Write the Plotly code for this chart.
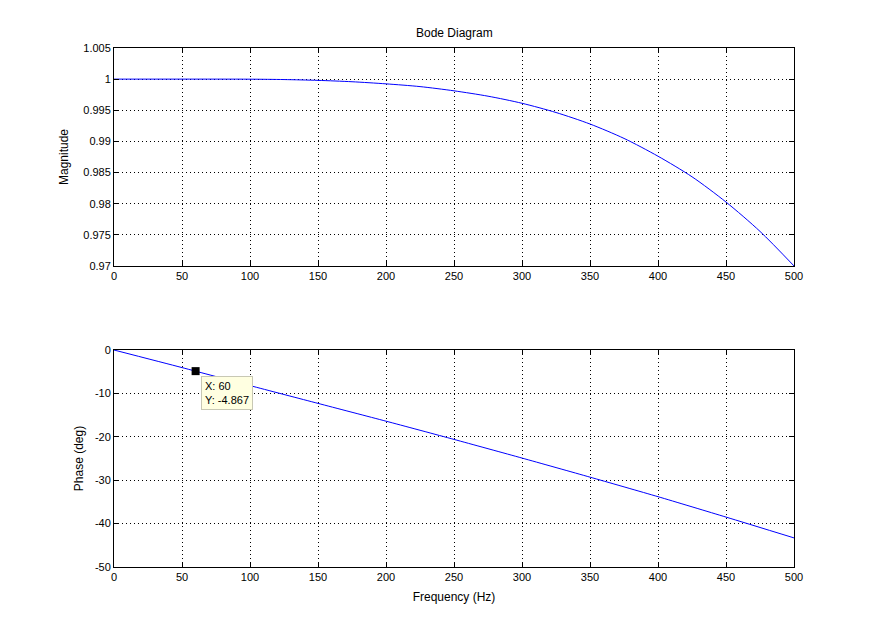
import plotly.graph_objects as go
from plotly.subplots import make_subplots

# Magnitude response
mag_freq = [0, 50, 100, 125, 150, 175, 200, 225, 250, 275, 300, 325, 350, 375, 400, 425, 450, 475, 500]
mag_vals = [1.0, 1.0, 0.99999, 0.99993, 0.9998, 0.99958, 0.99924, 0.9988, 0.99812, 0.99726, 0.99612, 0.99464, 0.99279, 0.99048, 0.98762, 0.98432, 0.98026, 0.97555, 0.9700]

# Phase response
ph_freq = [0, 50, 100, 150, 200, 250, 300, 350, 400, 450, 500]
ph_vals = [0.0, -4.05, -8.2, -12.3, -16.4, -20.6, -24.9, -29.3, -33.8, -38.5, -43.3]

# Data tip
tip_x = [60]
tip_y = [-4.867]

x_ticks = [0, 50, 100, 150, 200, 250, 300, 350, 400, 450, 500]
mag_ticks = [0.97, 0.975, 0.98, 0.985, 0.99, 0.995, 1.0, 1.005]
mag_ticktext = ["0.97", "0.975", "0.98", "0.985", "0.99", "0.995", "1", "1.005"]
ph_ticks = [-50, -40, -30, -20, -10, 0]
ph_ticktext = ["-50", "-40", "-30", "-20", "-10", "0"]

FONT = "Liberation Sans, Arial, sans-serif"

fig = make_subplots(rows=2, cols=1)
fig.add_trace(go.Scatter(x=mag_freq, y=mag_vals, mode="lines",
                         line=dict(color="#0000ff", width=1, shape="spline", smoothing=0.8),
                         showlegend=False), row=1, col=1)
fig.add_trace(go.Scatter(x=ph_freq, y=ph_vals, mode="lines",
                         line=dict(color="#0000ff", width=1, shape="spline", smoothing=0.6),
                         showlegend=False), row=2, col=1)
fig.add_trace(go.Scatter(x=tip_x, y=tip_y, mode="markers",
                         marker=dict(symbol="square", size=8, color="black"),
                         showlegend=False), row=2, col=1)

axis_common = dict(showline=True, linecolor="black", linewidth=1, mirror="allticks",
                   ticks="inside", ticklen=5, tickcolor="black",
                   showgrid=True, gridcolor="black", gridwidth=1, griddash="1px,3px",
                   zeroline=False, automargin=False,
                   tickfont=dict(family=FONT, size=11, color="black"))

fig.update_xaxes(**axis_common, range=[0, 500], tickvals=x_ticks)
fig.update_xaxes(domain=[0.13, 0.9054], row=1, col=1)
fig.update_xaxes(domain=[0.13, 0.9054], row=2, col=1,
                 title=dict(text="Frequency (Hz)", font=dict(family=FONT, size=12, color="black"), standoff=10))
fig.update_yaxes(**axis_common)
fig.update_yaxes(domain=[0.5831, 0.9248], range=[0.97, 1.005], tickvals=mag_ticks, ticktext=mag_ticktext,
                 title=dict(text="Magnitude", font=dict(family=FONT, size=12, color="black"), standoff=12),
                 row=1, col=1)
fig.update_yaxes(domain=[0.1113, 0.4514], range=[-50, 0], tickvals=ph_ticks, ticktext=ph_ticktext,
                 title=dict(text="Phase (deg)", font=dict(family=FONT, size=12, color="black"), standoff=8),
                 row=2, col=1)

fig.add_annotation(x=tip_x[0], y=tip_y[0], xref="x2", yref="y2",
                   text="X: %d<br>Y: %.3f" % (tip_x[0], tip_y[0]),
                   showarrow=False, xanchor="left", yanchor="top", align="left",
                   xshift=5, yshift=-5,
                   font=dict(family=FONT, size=11, color="black"),
                   bgcolor="#ffffe1", bordercolor="#c8c8b4", borderwidth=1, borderpad=3)

fig.add_annotation(text="Bode Diagram", x=0.5177, y=1 - 33 / 638, xref="paper", yref="paper",
                   showarrow=False, xanchor="center", yanchor="middle",
                   font=dict(family=FONT, size=12, color="black"))

fig.update_layout(width=877, height=638, margin=dict(l=0, r=0, t=0, b=0),
                  paper_bgcolor="white", plot_bgcolor="white",
                  font=dict(family=FONT, color="black"))

fig.write_html("out.html")
